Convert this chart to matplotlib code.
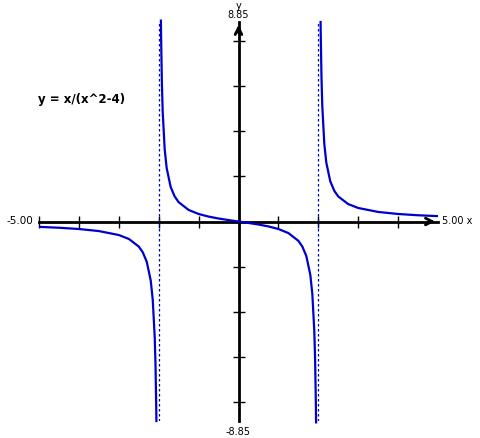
import matplotlib
matplotlib.use("Agg")
import matplotlib.pyplot as plt

# values, three branches of y = x/(x^2-4)
x_left = [-5.0, -4.5, -4.0, -3.5, -3.0, -2.75, -2.5, -2.4, -2.3, -2.2, -2.15, -2.1, -2.08, -2.06, -2.057]
y_left = [-0.238, -0.277, -0.333, -0.424, -0.6, -0.772, -1.111, -1.364, -1.783, -2.619, -3.454, -5.122, -6.373, -8.456, -8.9]

x_mid = [-1.945, -1.94, -1.92, -1.9, -1.85, -1.8, -1.7, -1.6, -1.5, -1.25, -1.0, -0.75, -0.5, -0.25, 0.0,
         0.25, 0.5, 0.75, 1.0, 1.25, 1.5, 1.6, 1.7, 1.8, 1.85, 1.9, 1.92, 1.94, 1.945]
y_mid = [8.96, 8.206, 6.122, 4.872, 3.203, 2.368, 1.532, 1.111, 0.857, 0.513, 0.333, 0.218, 0.133, 0.0635, 0.0,
         -0.0635, -0.133, -0.218, -0.333, -0.513, -0.857, -1.111, -1.532, -2.368, -3.203, -4.872, -6.122, -8.206, -8.96]

x_right = [2.057, 2.06, 2.08, 2.1, 2.15, 2.2, 2.3, 2.4, 2.5, 2.75, 3.0, 3.5, 4.0, 4.5, 5.0]
y_right = [8.9, 8.456, 6.373, 5.122, 3.454, 2.619, 1.783, 1.364, 1.111, 0.772, 0.6, 0.424, 0.333, 0.277, 0.238]

asymptotes = [-2, 2]
xticks = [-5, -4, -3, -2, -1, 1, 2, 3, 4]
yticks = [-8, -6, -4, -2, 2, 4, 6, 8]
xmin, xmax = -5.0, 5.0
ymin, ymax = -8.85, 8.85

W, H = 480, 439
fig = plt.figure(figsize=(W / 100, H / 100), dpi=100)
ax = fig.add_axes([39 / W, 1 - 422 / H, 399 / W, 399 / H])
ax.set_xlim(xmin, xmax)
ax.set_ylim(ymin, ymax)

blue = "#0000cc"
for xa in asymptotes:
    ax.axvline(xa, color=blue, lw=0.9, ls=(0, (2, 2)), zorder=2)

for xs, ys in [(x_left, y_left), (x_mid, y_mid), (x_right, y_right)]:
    ax.plot(xs, ys, color=blue, lw=1.6, clip_on=False, zorder=4, solid_capstyle="butt")

# axes through the origin
for s in ["top", "right"]:
    ax.spines[s].set_visible(False)
ax.spines["left"].set_position("zero")
ax.spines["bottom"].set_position("zero")
ax.spines["left"].set_linewidth(2)
ax.spines["bottom"].set_linewidth(2)
ax.spines["left"].set_zorder(3)
ax.spines["bottom"].set_zorder(3)
ax.set_xticks(xticks)
ax.set_yticks(yticks)
ax.tick_params(direction="inout", length=8, width=1, labelleft=False, labelbottom=False)

ax.annotate("", xy=(xmax, 0), xytext=(xmax - 0.3, 0),
            arrowprops=dict(arrowstyle="->", lw=2, color="black", mutation_scale=12), zorder=5)
ax.annotate("", xy=(0, ymax), xytext=(0, ymax - 0.6),
            arrowprops=dict(arrowstyle="->", lw=2, color="black", mutation_scale=12), zorder=5)

fs = 7
ax.annotate("y", xy=(0, ymax), xytext=(0, 12.5), textcoords="offset points",
            ha="center", va="center", fontsize=fs, annotation_clip=False)
ax.annotate("8.85", xy=(0, ymax), xytext=(0, 5.5), textcoords="offset points",
            ha="center", va="center", fontsize=fs, annotation_clip=False)
ax.annotate("-8.85", xy=(0, ymin), xytext=(0, -7), textcoords="offset points",
            ha="center", va="center", fontsize=fs, annotation_clip=False)
ax.annotate("-5.00", xy=(xmin, 0), xytext=(-4, 1), textcoords="offset points",
            ha="right", va="center", fontsize=7.5, annotation_clip=False)
ax.annotate("5.00 x", xy=(xmax, 0), xytext=(3, 1), textcoords="offset points",
            ha="left", va="center", fontsize=fs, annotation_clip=False)

fig.text(38 / W, 1 - 100 / H, "y = x/(x^2-4)", fontsize=8.5, fontweight="bold",
         ha="left", va="center")

fig.savefig("out.png", dpi=100)
